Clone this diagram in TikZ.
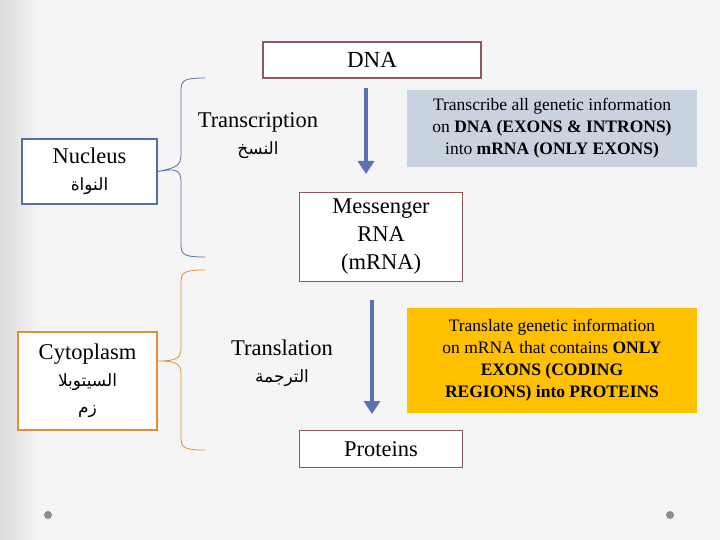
\documentclass[tikz,border=0pt]{standalone}
\usepackage{fontspec}
\usetikzlibrary{arrows.meta}
\setmainfont{Liberation Serif}
\newfontfamily\arabicfont[Script=Arabic]{DejaVu Sans}
\TeXXeTstate=1
\definecolor{brn}{HTML}{8C5A5A}
\definecolor{nblue}{HTML}{5470A0}
\definecolor{orng}{HTML}{E0903A}
\definecolor{grayfill}{HTML}{C9D3DF}
\definecolor{yel}{HTML}{FFC000}
\definecolor{arr}{HTML}{5A72B0}
\begin{document}
\begin{tikzpicture}[x=1pt,y=-1pt,
  box/.style={draw=brn,line width=1.6pt,fill=white,align=center,inner sep=0pt},
  side/.style={line width=1.6pt,fill=white,align=center,inner sep=0pt},
  info/.style={align=center,inner sep=0pt,font=\fontsize{17.5}{22}\selectfont},
  lbl/.style={align=center,font=\fontsize{22.5}{27}\selectfont},
  ar/.style={font=\arabicfont\fontsize{17}{22}\selectfont},
  bigarrow/.style={draw=arr,line width=4pt,-{Triangle[length=13pt,width=16pt]}}]
\useasboundingbox (0,0) rectangle (720,540);
\fill[black!4] (0,0) rectangle (720,540);
\shade[left color=black!14,right color=black!4] (0,0) rectangle (40,540);
\node[box,minimum width=218pt,minimum height=36pt,font=\fontsize{23}{27}\selectfont] (dna) at (372,60) {DNA};
\node[box,minimum width=163pt,minimum height=89pt,font=\fontsize{22.5}{28}\selectfont] (mrna) at (381,237) {Messenger\\RNA\\(mRNA)};
\node[box,minimum width=163pt,minimum height=37pt,font=\fontsize{22.5}{27}\selectfont] (prot) at (381,449) {Proteins};
\node[side,draw=nblue,minimum width=135pt,minimum height=65pt,font=\fontsize{22.5}{27}\selectfont] (nuc) at (89.5,171.5) {Nucleus\\{\arabicfont\fontsize{17}{22}\selectfont\beginR النواة\endR}};
\node[side,draw=orng,minimum width=139pt,minimum height=98pt,font=\fontsize{22.5}{27}\selectfont] (cyt) at (87.5,381) {Cytoplasm\\{\arabicfont\fontsize{17}{27}\selectfont\beginR السيتوبلا\endR}\\{\arabicfont\fontsize{17}{24}\selectfont\beginR زم\endR}};
\node[info,fill=grayfill,minimum width=290pt,minimum height=77pt] (tinfo) at (552,128.5) {Transcribe all genetic information\\on \textbf{DNA (EXONS \& INTRONS)}\\into \textbf{mRNA (ONLY EXONS)}};
\node[info,fill=yel,minimum width=290pt,minimum height=105pt] (linfo) at (552,360.5) {Translate genetic information\\on mRNA that contains \textbf{ONLY}\\\textbf{EXONS (CODING}\\\textbf{REGIONS) into PROTEINS}};
\node[lbl] (tr) at (258,136) {Transcription\\{\arabicfont\fontsize{17}{22}\selectfont\beginR النسخ\endR}};
\node[lbl] (tl) at (282,363) {Translation\\{\arabicfont\fontsize{17}{22}\selectfont\beginR الترجمة\endR}};
\coordinate (a1) at (366,88); \coordinate (a2) at (366,174);
\coordinate (b1) at (372,300); \coordinate (b2) at (372,414);
\draw[bigarrow] (a1) -- (a2);
\draw[bigarrow] (b1) -- (b2);
\coordinate (bt) at (205,78); \coordinate (bb) at (205,257);
\draw[nblue,line width=0.8pt] (bt) .. controls (185,78) and (181,80) .. (181,90) -- (181,155) .. controls (181,166) and (175,168) .. (nuc.east) .. controls (175,168) and (181,170) .. (181,181) -- (181,245) .. controls (181,255) and (185,257) .. (bb);
\coordinate (ct) at (205,270); \coordinate (cb) at (205,450);
\draw[orng,line width=0.8pt] (ct) .. controls (185,270) and (181,272) .. (181,282) -- (181,348) .. controls (181,359) and (175,361) .. (158,361) .. controls (175,361) and (181,363) .. (181,374) -- (181,438) .. controls (181,448) and (185,450) .. (cb);
\fill[black!45] (48,515) circle (4pt) (670,515) circle (4pt);
\end{tikzpicture}
\end{document}
